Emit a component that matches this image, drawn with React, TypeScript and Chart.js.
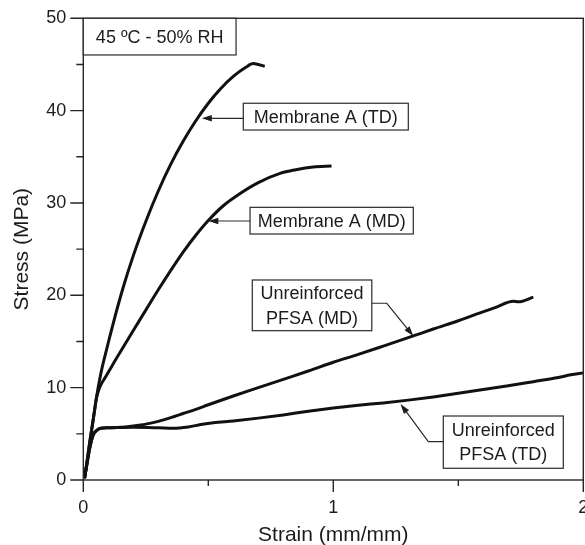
import React, { useEffect, useRef } from 'react';
import { Chart, registerables } from 'chart.js';

Chart.register(...registerables);

// ---- Data (strain in mm/mm, stress in MPa) ----
const membraneTD_x = [0.005, 0.015, 0.027, 0.04, 0.053, 0.07, 0.09, 0.12, 0.16, 0.2, 0.25, 0.3, 0.35, 0.4, 0.45, 0.5, 0.55, 0.6, 0.65, 0.68, 0.7, 0.726];
const membraneTD_y = [0.2, 2.0, 4.3, 6.6, 9.0, 11.5, 13.8, 17.0, 20.9, 24.3, 28.0, 31.3, 34.2, 36.7, 38.9, 40.8, 42.4, 43.7, 44.7, 45.1, 45.0, 44.8];

const membraneMD_x = [0.005, 0.015, 0.027, 0.04, 0.053, 0.065, 0.09, 0.12, 0.16, 0.2, 0.25, 0.3, 0.35, 0.4, 0.45, 0.5, 0.56, 0.626, 0.7, 0.787, 0.85, 0.92, 0.993];
const membraneMD_y = [0.2, 2.0, 4.3, 6.6, 8.9, 10.0, 11.2, 12.6, 14.4, 16.2, 18.4, 20.6, 22.7, 24.7, 26.5, 28.1, 29.7, 31.0, 32.2, 33.2, 33.6, 33.9, 34.0];

const pfsaMD_x = [0.005, 0.015, 0.027, 0.04, 0.055, 0.07, 0.1, 0.15, 0.2, 0.25, 0.3, 0.35, 0.4, 0.45, 0.5, 0.6, 0.7, 0.8, 0.9, 1.0, 1.1, 1.2, 1.32, 1.4, 1.5, 1.587, 1.65, 1.72, 1.74, 1.8];
const pfsaMD_y = [0.2, 1.8, 3.6, 4.9, 5.4, 5.6, 5.65, 5.7, 5.85, 6.05, 6.35, 6.75, 7.2, 7.65, 8.15, 9.1, 10.0, 10.9, 11.8, 12.75, 13.6, 14.5, 15.6, 16.35, 17.25, 18.1, 18.7, 19.35, 19.3, 19.8];

const pfsaTD_x = [0.005, 0.015, 0.027, 0.04, 0.055, 0.07, 0.1, 0.2, 0.3, 0.36, 0.42, 0.47, 0.52, 0.6, 0.7, 0.8, 0.9, 1.0, 1.1, 1.2, 1.3, 1.4, 1.5, 1.6, 1.7, 1.8, 1.9, 1.95, 2.0];
const pfsaTD_y = [0.2, 1.8, 3.6, 4.9, 5.4, 5.6, 5.65, 5.7, 5.65, 5.6, 5.75, 6.0, 6.2, 6.4, 6.7, 7.05, 7.45, 7.8, 8.1, 8.35, 8.65, 9.0, 9.4, 9.8, 10.2, 10.65, 11.1, 11.4, 11.6];

const xTickMin = 0;
const xTickMax = 2;
const xTickStep = 1;
const yTickMin = 0;
const yTickMax = 50;
const yTickStep = 10;

const conditionLabel = ['45 ºC - 50% RH'];
const labelMembraneTD = ['Membrane A (TD)'];
const labelMembraneMD = ['Membrane A (MD)'];
const labelPfsaMD = ['Unreinforced', 'PFSA (MD)'];
const labelPfsaTD = ['Unreinforced', 'PFSA (TD)'];

const xAxisTitle = 'Strain (mm/mm)';
const yAxisTitle = 'Stress (MPa)';

// ---- Annotation layout (data coordinates) ----
type Note = {
  lines: string[];
  box: [number, number, number, number]; // x1, yTop, x2, yBottom
  arrow?: [number, number][]; // path; last point is the tip
};

const notes: Note[] = [
  { lines: conditionLabel, box: [0, 50, 0.611, 46.03] },
  { lines: labelMembraneTD, box: [0.64, 40.8, 1.3, 37.9], arrow: [[0.64, 39.17], [0.474, 39.17]] },
  { lines: labelMembraneMD, box: [0.667, 29.53, 1.32, 26.64], arrow: [[0.667, 28.05], [0.5, 28.05]] },
  { lines: labelPfsaMD, box: [0.676, 21.66, 1.154, 16.17], arrow: [[1.154, 19.14], [1.214, 19.14], [1.32, 15.59]] },
  { lines: labelPfsaTD, box: [1.44, 6.93, 1.92, 1.27], arrow: [[1.44, 4.15], [1.38, 4.15], [1.269, 8.23]] },
];

const FONT = "'Liberation Sans', Arial, Helvetica, sans-serif";

const toPoints = (xs: number[], ys: number[]) => xs.map((x, i) => ({ x, y: ys[i] }));

const framePlugin = {
  id: 'frameTicksNotes',
  afterDraw(chart: any) {
    const { ctx, chartArea: a, scales } = chart;
    const xs = scales.x;
    const ys = scales.y;
    ctx.save();
    ctx.strokeStyle = '#262626';
    ctx.lineWidth = 1.4;
    ctx.strokeRect(a.left, a.top, a.right - a.left, a.bottom - a.top);

    ctx.beginPath();
    const xt = xs.ticks.map((t: any) => t.value);
    xt.forEach((v: number, i: number) => {
      const p = xs.getPixelForValue(v);
      ctx.moveTo(p, a.bottom);
      ctx.lineTo(p, a.bottom + 12);
      if (i < xt.length - 1) {
        const m = xs.getPixelForValue((v + xt[i + 1]) / 2);
        ctx.moveTo(m, a.bottom);
        ctx.lineTo(m, a.bottom + 6);
      }
    });
    const yt = ys.ticks.map((t: any) => t.value);
    yt.forEach((v: number, i: number) => {
      const p = ys.getPixelForValue(v);
      ctx.moveTo(a.left, p);
      ctx.lineTo(a.left - 13, p);
      if (i < yt.length - 1) {
        const m = ys.getPixelForValue((v + yt[i + 1]) / 2);
        ctx.moveTo(a.left, m);
        ctx.lineTo(a.left - 7, m);
      }
    });
    ctx.stroke();

    // annotations
    ctx.font = `18px ${FONT}`;
    ctx.textAlign = 'center';
    ctx.textBaseline = 'middle';
    notes.forEach((n) => {
      const x1 = xs.getPixelForValue(n.box[0]);
      const y1 = ys.getPixelForValue(n.box[1]);
      const x2 = xs.getPixelForValue(n.box[2]);
      const y2 = ys.getPixelForValue(n.box[3]);
      ctx.fillStyle = '#ffffff';
      ctx.fillRect(x1, y1, x2 - x1, y2 - y1);
      ctx.strokeStyle = '#2a2a2a';
      ctx.lineWidth = 1.2;
      ctx.strokeRect(x1, y1, x2 - x1, y2 - y1);
      ctx.fillStyle = '#1c1c1c';
      const cx = (x1 + x2) / 2;
      const cy = (y1 + y2) / 2;
      const lh = 24.5;
      n.lines.forEach((s, i) => {
        ctx.fillText(s, cx, cy + (i - (n.lines.length - 1) / 2) * lh + 1);
      });
      if (n.arrow) {
        const pts = n.arrow.map(([px, py]) => [xs.getPixelForValue(px), ys.getPixelForValue(py)]);
        const tip = pts[pts.length - 1];
        const prev = pts[pts.length - 2];
        const ang = Math.atan2(tip[1] - prev[1], tip[0] - prev[0]);
        const headLen = 10;
        const headW = 3.2;
        ctx.strokeStyle = '#2a2a2a';
        ctx.lineWidth = 1.2;
        ctx.beginPath();
        ctx.moveTo(pts[0][0], pts[0][1]);
        for (let i = 1; i < pts.length - 1; i++) ctx.lineTo(pts[i][0], pts[i][1]);
        ctx.lineTo(tip[0] - Math.cos(ang) * headLen * 0.8, tip[1] - Math.sin(ang) * headLen * 0.8);
        ctx.stroke();
        const bx = tip[0] - Math.cos(ang) * headLen;
        const by = tip[1] - Math.sin(ang) * headLen;
        ctx.fillStyle = '#1c1c1c';
        ctx.beginPath();
        ctx.moveTo(tip[0], tip[1]);
        ctx.lineTo(bx + Math.sin(ang) * headW, by - Math.cos(ang) * headW);
        ctx.lineTo(bx - Math.sin(ang) * headW, by + Math.cos(ang) * headW);
        ctx.closePath();
        ctx.fill();
      }
    });
    ctx.restore();
  },
};

export default function App() {
  const ref = useRef<HTMLCanvasElement | null>(null);

  useEffect(() => {
    if (!ref.current) return;
    const lineStyle = {
      borderColor: '#111111',
      borderWidth: 3,
      pointRadius: 0,
      fill: false,
      cubicInterpolationMode: 'monotone' as const,
      showLine: true,
    };
    const chart = new Chart(ref.current, {
      type: 'line',
      data: {
        datasets: [
          { label: 'Membrane A (TD)', data: toPoints(membraneTD_x, membraneTD_y), ...lineStyle },
          { label: 'Membrane A (MD)', data: toPoints(membraneMD_x, membraneMD_y), ...lineStyle },
          { label: 'Unreinforced PFSA (MD)', data: toPoints(pfsaMD_x, pfsaMD_y), ...lineStyle },
          { label: 'Unreinforced PFSA (TD)', data: toPoints(pfsaTD_x, pfsaTD_y), ...lineStyle },
        ],
      },
      options: {
        animation: false,
        responsive: false,
        devicePixelRatio: 1,
        layout: { padding: { left: 0, right: 1.7, top: 18.3, bottom: 0 } },
        plugins: {
          legend: { display: false },
          tooltip: { enabled: false },
        },
        scales: {
          x: {
            type: 'linear',
            min: xTickMin,
            max: xTickMax,
            grid: { display: false, drawTicks: false, tickLength: 0 },
            border: { display: false },
            ticks: {
              stepSize: xTickStep,
              padding: 17,
              color: '#1c1c1c',
              font: { family: FONT, size: 18 },
              maxRotation: 0,
              autoSkip: false,
              callback: (v: any) => String(v),
            },
            title: {
              display: true,
              text: xAxisTitle,
              color: '#1c1c1c',
              font: { family: FONT, size: 21, lineHeight: 1 },
              padding: { top: 0, bottom: -1 },
            },
            afterFit: (s: any) => {
              s.height = 65;
              s.paddingLeft = 0;
              s.paddingRight = 0;
            },
          },
          y: {
            type: 'linear',
            min: yTickMin,
            max: yTickMax,
            grid: { display: false, drawTicks: false, tickLength: 0 },
            border: { display: false },
            ticks: {
              stepSize: yTickStep,
              padding: 17,
              color: '#1c1c1c',
              font: { family: FONT, size: 18 },
              autoSkip: false,
            },
            title: {
              display: true,
              text: yAxisTitle,
              color: '#1c1c1c',
              font: { family: FONT, size: 21, lineHeight: 1 },
              padding: { top: 12, bottom: 0 },
            },
            afterFit: (s: any) => {
              s.width = 83.3;
              s.paddingTop = 0;
              s.paddingBottom = 0;
            },
          },
        },
      },
      plugins: [framePlugin],
    });
    return () => chart.destroy();
  }, []);

  return (
    <div style={{ position: 'absolute', left: 0, top: 0, width: 585, height: 545, background: '#fff' }}>
      <canvas ref={ref} width={585} height={545} style={{ display: 'block' }} />
    </div>
  );
}
